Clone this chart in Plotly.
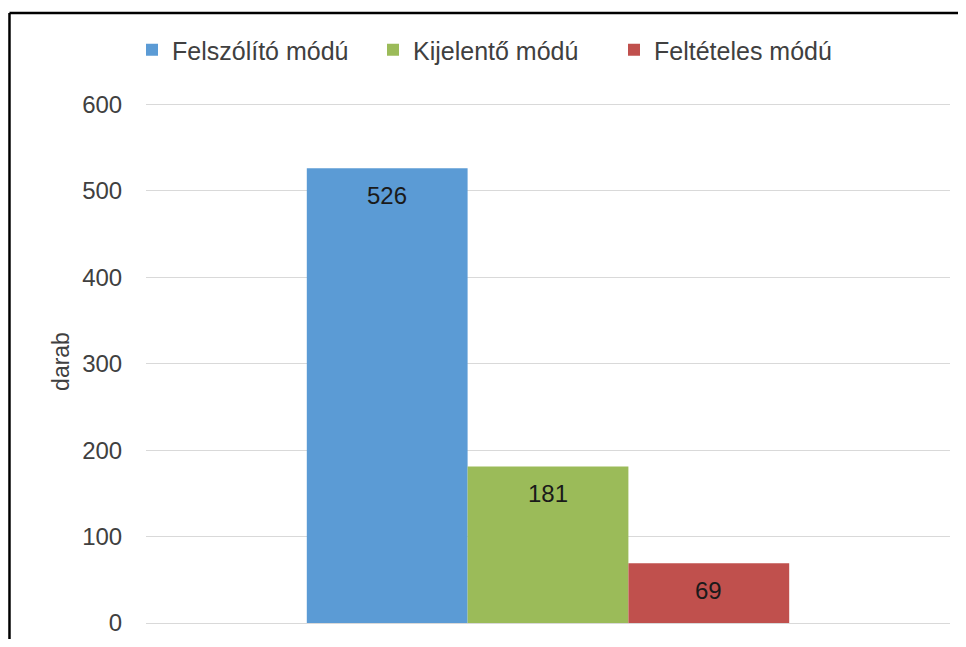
import plotly.graph_objects as go

# Data
series_names = ["Felszólító módú", "Kijelentő módú", "Feltételes módú"]
series_values = [526, 181, 69]
series_colors = ["#5b9bd5", "#9bbb59", "#c0504d"]
category = [0]
y_ticks = [0, 100, 200, 300, 400, 500, 600]
y_title = "darab"

FONT = "Liberation Sans, Arial, sans-serif"
BARGAP = 0.4

fig = go.Figure()
for name, val, col in zip(series_names, series_values, series_colors):
    fig.add_trace(go.Bar(
        x=category, y=[val], name=name,
        marker=dict(color=col, line=dict(width=0)),
        hoverinfo="y+name",
    ))

# value labels inside bars near top
n = len(series_values)
bw = (1 - BARGAP) / n
for i, val in enumerate(series_values):
    fig.add_annotation(
        x=category[0] + (i - (n - 1) / 2) * bw, y=val,
        text=str(val), showarrow=False, yanchor="middle", yshift=-27,
        font=dict(family=FONT, size=24, color="#1a1a1a"),
    )

# outer frame (left and top edges), paper coords
top_y = (615 - 5) / 523
legend_y = (615 - 42) / 523
fig.add_shape(type="line", xref="paper", yref="paper",
              x0=-0.1698, x1=-0.1698, y0=top_y, y1=-0.2,
              line=dict(color="black", width=2.5))
fig.add_shape(type="line", xref="paper", yref="paper",
              x0=-0.1698, x1=1.2, y0=top_y, y1=top_y,
              line=dict(color="black", width=2.5))

fig.update_layout(
    width=950, height=631,
    margin=dict(l=138, r=8, t=92, b=16, autoexpand=False),
    paper_bgcolor="white", plot_bgcolor="white",
    barmode="group", bargap=BARGAP, bargroupgap=0,
    font=dict(family=FONT, size=24, color="#404040"),
    showlegend=True,
    legend=dict(orientation="h", x=-0.0174, xanchor="left", y=legend_y, yanchor="middle",
                entrywidth=196, entrywidthmode="pixels",
                font=dict(family=FONT, size=25, color="#404040"),
                bgcolor="rgba(0,0,0,0)", itemclick=False, traceorder="normal"),
    xaxis=dict(range=[-0.5, 0.5], showticklabels=False, showgrid=False,
               zeroline=False, showline=False, ticks="", automargin=False),
    yaxis=dict(range=[0, 605], tickvals=y_ticks, showgrid=True, gridcolor="#d9d9d9",
               gridwidth=1, zeroline=True, zerolinecolor="#d9d9d9", zerolinewidth=1,
               showline=False, ticks="outside", ticklen=18, tickcolor="rgba(0,0,0,0)",
               automargin=False,
               tickfont=dict(family=FONT, size=24, color="#404040"),
               title=dict(text=y_title, standoff=6, font=dict(family=FONT, size=23, color="#404040"))),
)

fig.write_html("out.html")
